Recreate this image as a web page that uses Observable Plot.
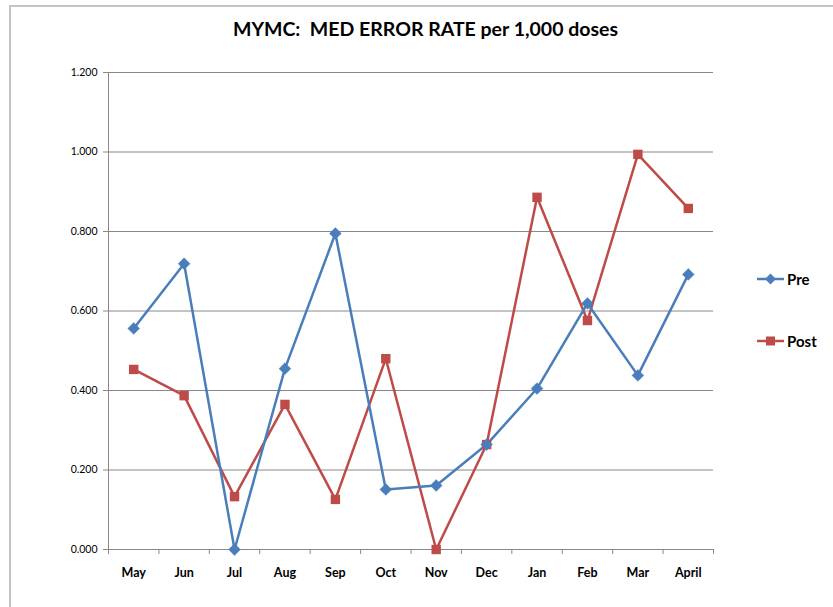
<!DOCTYPE html>
<html>
<head>
<meta charset="utf-8">
<script src="https://cdn.jsdelivr.net/npm/d3@7"></script>
<script src="https://cdn.jsdelivr.net/npm/@observablehq/plot@0.6"></script>
<style>
  html, body { margin: 0; padding: 0; background: #fff; }
  #wrap { position: relative; width: 833px; height: 607px; overflow: hidden; font-family: Lato, "Open Sans", sans-serif; }
  #frame { position: absolute; left: 9px; top: 5px; width: 860px; height: 640px; border: 2px solid #c4c4c4; box-sizing: border-box; }
  #title { position: absolute; left: 0; width: 851px; top: 17px; text-align: center; font-weight: bold; font-size: 19.5px; color: #000; white-space: pre; }
  .leg { position: absolute; left: 757px; font-weight: bold; font-size: 15px; color: #000; display: flex; align-items: center; }
  .leg svg { margin-right: 3px; }
  #chart { position: absolute; left: 0; top: 0; }
</style>
</head>
<body>
<div id="wrap">
  <div id="frame"></div>
  <div id="chart"></div>
  <div id="title">MYMC:  MED ERROR RATE per 1,000 doses</div>
  <div class="leg" style="top:270px"><svg width="27" height="14"><line x1="0" y1="7" x2="27" y2="7" stroke="#4A7EBB" stroke-width="2.5"/><path d="M13.5,1.5 L19,7 L13.5,12.5 L8,7Z" fill="#4A7EBB"/></svg>Pre</div>
  <div class="leg" style="top:332px"><svg width="27" height="14"><line x1="0" y1="7" x2="27" y2="7" stroke="#BE4B48" stroke-width="2.5"/><rect x="9" y="2.5" width="9" height="9" fill="#BE4B48"/></svg>Post</div>
</div>
<script>
const months = ["May","Jun","Jul","Aug","Sep","Oct","Nov","Dec","Jan","Feb","Mar","April"];
const pre  = [0.556, 0.719, 0.000, 0.455, 0.795, 0.151, 0.161, 0.264, 0.405, 0.619, 0.438, 0.692];
const post = [0.453, 0.387, 0.133, 0.365, 0.126, 0.480, 0.000, 0.264, 0.886, 0.576, 0.994, 0.858];
const yTicks = [0, 0.2, 0.4, 0.6, 0.8, 1.0, 1.2];

const preData = months.map((m, i) => ({i: i + 0.5, month: m, value: pre[i]}));
const postData = months.map((m, i) => ({i: i + 0.5, month: m, value: post[i]}));

const grid = "#888888";
const font = "Lato, 'Open Sans', sans-serif";

const chart = Plot.plot({
  width: 833,
  height: 607,
  marginLeft: 108,
  marginRight: 120,
  marginTop: 72,
  marginBottom: 58,
  style: {fontFamily: font, background: "transparent", overflow: "visible"},
  x: {type: "linear", domain: [0, 12], axis: null},
  y: {domain: [0, 1.2], axis: null},
  marks: [
    Plot.gridY(yTicks, {stroke: grid, strokeOpacity: 1, strokeWidth: 1}),
    Plot.ruleX([0], {stroke: grid, strokeWidth: 1}),
    Plot.ruleY([0], {stroke: grid, strokeWidth: 1}),
    Plot.axisY(yTicks, {label: null, tickSize: 5, tickPadding: 6, stroke: grid, fill: "#000", fontSize: 10.5, tickFormat: d3.format(".3f")}),
    Plot.axisX(d3.range(13), {label: null, tickSize: 5, stroke: grid, tickFormat: () => ""}),
    Plot.axisX(months.map((m, i) => i + 0.5), {label: null, tickSize: 0, tickPadding: 19, fill: "#000", fontSize: 12.5, fontWeight: "bold", tickFormat: d => months[Math.floor(d)]}),
    Plot.lineY(postData, {x: "i", y: "value", stroke: "#BE4B48", strokeWidth: 2.5}),
    Plot.lineY(preData, {x: "i", y: "value", stroke: "#4A7EBB", strokeWidth: 2.5}),
    Plot.dot(postData, {x: "i", y: "value", symbol: "square", r: 5.3, fill: "#BE4B48"}),
    Plot.dot(preData, {x: "i", y: "value", symbol: "diamond2", r: 5.3, fill: "#4A7EBB", stroke: "#4A7EBB", strokeWidth: 0.5})
  ]
});
document.getElementById("chart").appendChild(chart);
</script>
</body>
</html>
